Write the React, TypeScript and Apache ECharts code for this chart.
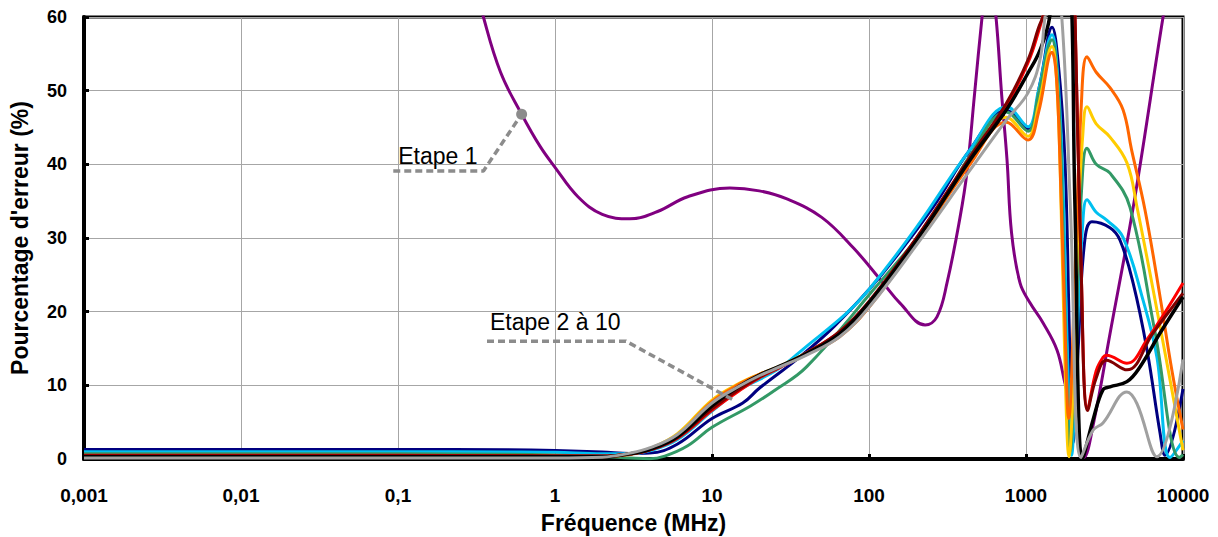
import React, { useEffect, useRef } from "react";
import * as echarts from "echarts";

type P = [number, number];

const FONT = '"Liberation Sans", Arial, sans-serif';

const xTickLabels = ["0,001", "0,01", "0,1", "1", "10", "100", "1000", "10000"];
const yTicks = [0, 10, 20, 30, 40, 50, 60];

// Etape 1 (purple)
const etape1: P[] = [
  [0.25, 72], [0.35, 60], [0.45, 52.5], [0.613, 46.8], [0.8, 42.5], [1, 39.6], [1.4, 35.6], [2, 33.2],
  [3, 32.6], [4.5, 33.6], [7, 35.6], [13, 36.8], [20, 36.4], [30, 35.3], [50, 32.8], [80, 28.6], [123, 23.9],
  [157, 21.2], [228, 18.2], [271, 19.3], [314, 23.9], [380, 32.8], [421, 39], [470, 49.5], [525, 60],
  [580, 68], [644, 60], [700, 49.4], [757, 40.6], [809, 30.7], [916, 23.9], [1060, 21.2], [1282, 18.5],
  [1575, 14.8], [1770, 10.3], [2000, 6], [2340, 0.2], [2700, 5], [3428, 17], [4908, 35.2], [7464, 60], [9000, 70],
];

const navy: P[] = [
  [0.001, 1.3], [0.1, 1.3], [0.5, 1.25], [1, 1.15], [2, 0.95], [3, 0.75], [4, 0.8], [6, 2.0], [10, 5.5],
  [15.7, 7.6], [20, 9.6], [36, 13.8], [60, 18], [117, 24.7], [256, 34.2], [440, 42], [750, 47.3],
  [1030, 44.8], [1228, 51], [1466, 58.6], [1600, 54], [1770, 40.6], [1900, 15], [1991, 2.2], [2150, 15],
  [2350, 29], [2630, 32.2], [3428, 31.4], [3971, 29.7], [4808, 23.9], [5901, 14.8], [7145, 3.5],
  [7674, 0.5], [10000, 9.5],
];

const cyan: P[] = [
  [0.001, 1.0], [0.1, 1.0], [0.5, 0.95], [1, 0.9], [2, 0.7], [3, 0.7], [4, 1.1], [6, 2.6], [10, 6.5],
  [15, 9.4], [26, 12.1], [40, 15.3], [72, 19.8], [100, 23.0], [200, 31.4], [440, 42], [757, 47.8],
  [1031, 45.1], [1200, 50], [1466, 57.6], [1580, 53], [1700, 40.6], [1850, 12], [1950, 0.5], [2100, 15],
  [2300, 32], [2447, 35.2], [2800, 33.5], [3281, 32.4], [4150, 30.1], [5559, 21.6], [6823, 13.8],
  [8260, 0.2], [10000, 2.5],
];

const green: P[] = [
  [0.001, 0.7], [0.1, 0.7], [0.5, 0.65], [1, 0.55], [2, 0.35], [3, 0.15], [4, 0.05], [5, 0.4], [7, 1.8],
  [10, 4.3], [17.6, 7.2], [25, 9.3], [40, 12.5], [106, 22.9], [256, 32.8], [440, 41.2], [750, 47.1],
  [1030, 44.5], [1200, 49.5], [1466, 56.9], [1580, 52], [1675, 40.6], [1800, 14], [1910, 1], [2080, 18],
  [2280, 38], [2447, 42.2], [2800, 40], [3428, 38.8], [4592, 34.2], [6637, 17.2], [9500, 0.2], [10000, 0.6],
];

const gold: P[] = [
  [0.001, 0.45], [0.1, 0.45], [0.5, 0.4], [1, 0.35], [2, 0.35], [3, 0.7], [4, 1.4], [6, 3.4], [10, 8.0],
  [15, 10.3], [20, 11.5], [27, 12.6], [40, 14.4], [65, 17.2], [100, 21.3], [200, 29.8], [440, 40.5],
  [750, 46.4], [1030, 43.8], [1200, 48], [1466, 56], [1560, 52], [1648, 40], [1760, 15], [1880, 0.3],
  [2000, 10], [2150, 32], [2300, 44], [2447, 47.8], [2800, 45.5], [3428, 43.7], [4395, 40.2],
  [5093, 34.2], [7000, 19], [10000, 1.2],
];

const orange: P[] = [
  [0.001, 0.35], [0.1, 0.35], [0.5, 0.3], [1, 0.3], [2, 0.3], [3, 0.6], [4, 1.3], [6, 3.2], [10, 7.8],
  [15, 10.2], [20, 11.5], [27, 12.5], [40, 14.2], [65, 16.6], [100, 20.6], [200, 29.3], [440, 40],
  [750, 45.7], [1030, 43.3], [1200, 47], [1466, 55.2], [1560, 52], [1648, 40], [1760, 20], [1870, 5.5],
  [2050, 25], [2250, 48], [2447, 54.6], [2800, 52.5], [3428, 50.4], [4150, 47.4], [4700, 42],
  [5728, 33.8], [7145, 22], [8500, 12], [10000, 4],
];

const red: P[] = [
  [0.001, 0.5], [0.1, 0.5], [0.5, 0.45], [1, 0.4], [2, 0.4], [3, 0.7], [4, 1.2], [6, 2.8], [10, 6.6],
  [15, 9.3], [20, 11], [27, 12.4], [40, 14.4], [65, 17.3], [100, 21.3], [200, 29.9], [440, 40.9],
  [750, 48], [1030, 53.8], [1200, 58], [1322, 61.5], [1500, 72], [1750, 80], [1950, 72], [2052, 60],
  [2250, 25], [2470, 6.8], [2800, 12], [3093, 13.8], [3252, 14.1], [4395, 13], [5901, 16.2], [10000, 23.9],
];

const maroon: P[] = [
  [0.001, 0.45], [0.1, 0.45], [0.5, 0.45], [1, 0.4], [2, 0.4], [3, 0.7], [4, 1.2], [6, 2.9], [10, 6.8],
  [15, 9.5], [20, 11.1], [27, 12.5], [40, 14.4], [65, 17.3], [100, 21.4], [200, 30], [440, 41],
  [750, 48.3], [1030, 54.2], [1200, 58.5], [1322, 61], [1500, 72], [1750, 80], [1950, 72], [2052, 60],
  [2250, 25], [2470, 6.6], [2800, 11], [3252, 13.4], [4395, 12.1], [6442, 17.1], [10000, 22.5],
];

const black: P[] = [
  [0.001, 0.3], [0.1, 0.3], [0.5, 0.3], [1, 0.3], [2, 0.3], [3, 0.7], [4, 1.3], [6, 3.0], [10, 7.2],
  [15, 9.9], [20, 11.4], [27, 12.6], [40, 14.3], [65, 17], [100, 21.2], [200, 29.6], [440, 40.6],
  [750, 47.4], [1030, 52.4], [1228, 55.5], [1415, 60], [1650, 75], [1850, 70], [1963, 60], [2052, 34],
  [2306, 0.2], [2672, 5.3], [3093, 9.4], [3428, 9.8], [4395, 10.5], [5322, 12.5], [7145, 17.1], [10000, 22],
];

const gray: P[] = [
  [0.001, 0.15], [0.1, 0.15], [0.5, 0.15], [1, 0.15], [2, 0.25], [3, 0.8], [4, 1.5], [6, 3.3], [10, 7.6],
  [15, 9.9], [20, 11.3], [27, 12.5], [40, 14.1], [65, 16.6], [100, 20.6], [200, 29], [440, 39.2],
  [750, 46], [1030, 49.7], [1228, 54.2], [1322, 60], [1500, 66], [1690, 60], [1921, 33.8], [2239, 0.2],
  [2672, 3.9], [3093, 4.9], [4395, 9.1], [5093, 7.5], [6823, 0.3], [10000, 13.5],
];

// annotation leaders
const leaderEtape1: P[] = [[0.0933, 39.1], [0.35, 39.1], [0.613, 46.8]];
const leaderEtape2: P[] = [[0.369, 16.0], [2.83, 16.0], [13.7, 8.0]];

const curves: { name: string; data: P[]; color: string; width: number }[] = [
  { name: "Etape 1", data: etape1, color: "#800080", width: 3 },
  { name: "Etape 2", data: navy, color: "#000080", width: 3 },
  { name: "Etape 3", data: cyan, color: "#00C0F0", width: 3 },
  { name: "Etape 4", data: green, color: "#339966", width: 3 },
  { name: "Etape 5", data: gold, color: "#FFCC00", width: 3 },
  { name: "Etape 6", data: orange, color: "#FF6600", width: 3 },
  { name: "Etape 7", data: red, color: "#FF0000", width: 3 },
  { name: "Etape 8", data: maroon, color: "#800000", width: 3 },
  { name: "Etape 9", data: black, color: "#000000", width: 3.5 },
  { name: "Etape 10", data: gray, color: "#A0A0A0", width: 3 },
];

const xFormatter = (v: number) => {
  const exp = Math.round(Math.log10(v));
  const idx = exp + 3;
  if (idx >= 0 && idx < xTickLabels.length) return xTickLabels[idx];
  return String(v).replace(".", ",");
};

export default function App() {
  const ref = useRef<HTMLDivElement>(null);
  useEffect(() => {
    document.body.style.margin = "0";
    if (!ref.current) return;
    const chart = echarts.init(ref.current, undefined, { renderer: "svg" });
    const axisText = { fontFamily: FONT, fontWeight: "bold" as const, color: "#000" };
    const option: any = {
      animation: false,
      backgroundColor: "#ffffff",
      grid: {
        left: 84, right: 35, top: 17, bottom: 78, containLabel: false, outerBoundsMode: "none",
        show: true, borderColor: "#000", borderWidth: 3, backgroundColor: "transparent",
      },
      xAxis: {
        type: "log", logBase: 10, min: 0.001, max: 10000, splitNumber: 7,
        name: "Fréquence (MHz)", nameLocation: "middle", nameGap: 52,
        nameTextStyle: { ...axisText, fontSize: 23 },
        axisLine: { show: true, onZero: false, lineStyle: { color: "#000", width: 4 } },
        axisTick: { show: true, inside: true, length: 5, lineStyle: { color: "#000", width: 3 } },
        axisLabel: { ...axisText, fontSize: 19, margin: 27, formatter: xFormatter },
        splitLine: { show: true, lineStyle: { color: "#A6A6A6", width: 1 } },
        minorTick: { show: false },
      },
      yAxis: {
        type: "value", min: yTicks[0], max: yTicks[yTicks.length - 1], interval: 10,
        name: "Pourcentage d'erreur (%)", nameLocation: "middle", nameGap: 53,
        nameTextStyle: { ...axisText, fontSize: 23 },
        axisLine: { show: true, lineStyle: { color: "#000", width: 4 } },
        axisTick: { show: true, inside: true, length: 5, lineStyle: { color: "#000", width: 3 } },
        axisLabel: { ...axisText, fontSize: 18, margin: 17 },
        splitLine: { show: true, lineStyle: { color: "#A6A6A6", width: 1 } },
      },
      series: [
        ...curves.map((c) => ({
          type: "line", name: c.name, data: c.data, smooth: 0.4, showSymbol: false, symbol: "none",
          clip: true, lineStyle: { color: c.color, width: c.width }, itemStyle: { color: c.color },
          emphasis: { disabled: true },
        })),
        {
          type: "line", name: "leader1", smooth: false, clip: true, symbol: "none", showSymbol: true,
          data: leaderEtape1.map((p, i) =>
            i === leaderEtape1.length - 1 ? { value: p, symbol: "circle", symbolSize: 11 } : { value: p }
          ),
          lineStyle: { color: "#8C8C8C", width: 3.5, type: [7, 4] },
          itemStyle: { color: "#8C8C8C" }, emphasis: { disabled: true }, z: 5,
        },
        {
          type: "line", name: "leader2", smooth: false, clip: true, symbol: "none", showSymbol: false,
          data: leaderEtape2,
          lineStyle: { color: "#8C8C8C", width: 3.5, type: [7, 4] },
          emphasis: { disabled: true }, z: 5,
        },
      ],
    };
    chart.setOption(option);
    const p1 = chart.convertToPixel({ gridIndex: 0 }, leaderEtape1[0]) as number[];
    const p2 = chart.convertToPixel({ gridIndex: 0 }, leaderEtape2[0]) as number[];
    chart.setOption({
      graphic: [
        {
          type: "text", x: p1[0] + 5, y: p1[1] - 15, z: 100,
          style: { text: "Etape 1", font: `23px ${FONT}`, fill: "#000", verticalAlign: "middle" },
        },
        {
          type: "text", x: p2[0] + 3, y: p2[1] - 19, z: 100,
          style: { text: "Etape 2 à 10", font: `23px ${FONT}`, fill: "#000", verticalAlign: "middle" },
        },
      ],
    });
    return () => chart.dispose();
  }, []);
  return <div ref={ref} style={{ width: 1218, height: 537 }} />;
}
